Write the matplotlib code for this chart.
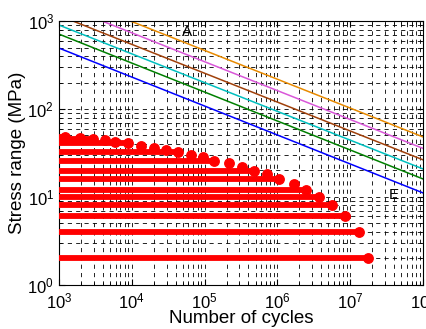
import numpy as np
import matplotlib
matplotlib.use('Agg')
import matplotlib.pyplot as plt

plt.rcParams['font.family'] = ['Liberation Sans', 'DejaVu Sans']

# stress spectrum points (cumulative cycles, stress range MPa)
cycles = [1.21e3, 1.95e3, 2.96e3, 4.3e3, 5.97e3, 8.75e3, 1.32e4, 2.0e4, 2.94e4,
          4.3e4, 6.5e4, 9.6e4, 1.36e5, 2.19e5, 3.21e5, 4.71e5, 7.1e5, 1.05e6,
          1.69e6, 2.47e6, 3.74e6, 5.66e6, 8.57e6, 1.3e7, 1.73e7]
stress = [48, 46.8, 45.6, 44.4, 42.2, 41.1, 38, 36.1, 34.2, 32.5, 30, 28.5, 25.7,
          24.3, 21.9, 19.7, 18.2, 16, 14.1, 12, 10, 8, 6, 4, 2]
# levels drawn with a horizontal bar from the left edge
bar_idx = [0, 2, 5, 9, 12, 15, 17, 19, 20, 21, 22, 23, 24]

# S-N curves: stress at 1e3 and 1e8 cycles
sn_start = [493, 711, 901, 1157, 1567, 2101]
sn_end = [11.1, 16.0, 20.8, 26.4, 35.6, 48.1]
sn_colors = ['#0000ff', '#008000', '#00bfbf', '#a0400a', '#d957d9', '#e88a00']
sn_n = [1e3, 1e8]

fig = plt.figure(figsize=(4.27, 3.29), dpi=100)
ax = fig.add_axes([0.138, 0.134, 0.853, 0.802])

for s0, s1, c in zip(sn_start, sn_end, sn_colors):
    ax.plot(sn_n, [s0, s1], color=c, lw=1.1)

for i in bar_idx:
    ax.plot([1e3, cycles[i]], [stress[i], stress[i]], color='red', lw=4.2,
            solid_capstyle='butt', zorder=3)
ax.plot(cycles, stress, 'o', color='red', ms=6.8, mec='red', zorder=4)

ax.text(5.7e4, 750, 'A', fontsize=11, ha='center', va='center')
ax.text(3.9e7, 10.5, 'E', fontsize=11, ha='center', va='center')

ax.set_xscale('log')
ax.set_yscale('log')
ax.set_xlim(1e3, 1e8)
ax.set_ylim(1, 1e3)
ax.grid(which='both', color='k', ls=(0, (5, 5)), lw=0.6)
ax.tick_params(which='both', direction='in', top=True, right=True, labelsize=12)
ax.tick_params(which='major', length=4)
ax.tick_params(which='minor', length=2)
ax.tick_params(axis='x', pad=5)
ax.set_xlabel('Number of cycles', fontsize=13.5, labelpad=-1)
ax.set_ylabel('Stress range (MPa)', fontsize=13.5, labelpad=1)

fig.savefig('out.png', dpi=100)
